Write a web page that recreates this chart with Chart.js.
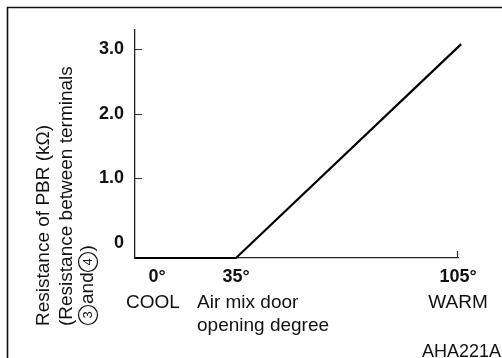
<!DOCTYPE html>
<html>
<head>
<meta charset="utf-8">
<title>PBR resistance</title>
<script src="https://cdn.jsdelivr.net/npm/chart.js@4/dist/chart.umd.min.js"></script>
<style>
  html, body { margin: 0; padding: 0; background: #fff; overflow: hidden; }
  canvas { display: block; }
</style>
</head>
<body>
<canvas id="pbr" width="502" height="358"></canvas>
<script>
// Air mix door opening (deg) vs. PBR resistance (kOhm).
// Flat along the base up to 35 deg, then rising to just past 105 deg.
var DOOR_DEG = [-10, 35, 106];
var PBR_KOHM = [-0.24, -0.24, 3.08];

var X_TICKS = [0, 35, 105];
var X_TICK_LABELS = ["0°", "35°", "105°"];
var Y_TICKS = [0, 1, 2, 3];
var Y_TICK_LABELS = ["0", "1.0", "2.0", "3.0"];

var Y_TITLE = ["Resistance of PBR (kΩ)", "(Resistance between terminals"];

var FONT = '"Liberation Sans", Arial, Helvetica, sans-serif';

// The door axis is schematic: the COOL end is squeezed, 35..105 is linear.
// Knots map degrees onto evenly spaced drawing units.
var KNOT_DEG = [-10, 0, 35, 105];
var KNOT_UNIT = [0, 22, 101, 323];

function warp(v) {
  var n = KNOT_DEG.length;
  var i = 0;
  if (v >= KNOT_DEG[n - 1]) i = n - 2;
  else while (i < n - 2 && v > KNOT_DEG[i + 1]) i++;
  var t = (v - KNOT_DEG[i]) / (KNOT_DEG[i + 1] - KNOT_DEG[i]);
  return KNOT_UNIT[i] + t * (KNOT_UNIT[i + 1] - KNOT_UNIT[i]);
}
function unwarp(u) {
  var n = KNOT_UNIT.length;
  var i = 0;
  if (u >= KNOT_UNIT[n - 1]) i = n - 2;
  else while (i < n - 2 && u > KNOT_UNIT[i + 1]) i++;
  var t = (u - KNOT_UNIT[i]) / (KNOT_UNIT[i + 1] - KNOT_UNIT[i]);
  return KNOT_DEG[i] + t * (KNOT_DEG[i + 1] - KNOT_DEG[i]);
}

class DoorScale extends Chart.LinearScale {
  getPixelForValue(value) {
    if (value === null || value === undefined) return NaN;
    var a = warp(this.min), b = warp(this.max);
    return this.getPixelForDecimal((warp(value) - a) / (b - a));
  }
  getValueForPixel(pixel) {
    var a = warp(this.min), b = warp(this.max);
    return unwarp(a + this.getDecimalForPixel(pixel) * (b - a));
  }
}
DoorScale.id = "door";
DoorScale.defaults = Chart.LinearScale.defaults;
Chart.register(DoorScale);

// terminal number in a small ring, drawn in the current (rotated) frame
function ringDigit(ctx, cx, digit) {
  ctx.beginPath();
  ctx.lineWidth = 1.2;
  ctx.arc(cx, 0, 9.5, 0, Math.PI * 2);
  ctx.stroke();
  ctx.save();
  ctx.font = "13px " + FONT;
  ctx.textAlign = "center";
  ctx.fillText(digit, cx, 0.5);
  ctx.restore();
}

var decor = {
  id: "pbrDecor",
  afterDraw: function (chart) {
    var ctx = chart.ctx;
    var xs = chart.scales.x, ys = chart.scales.y;
    ctx.save();

    // outer frame (only top/left fall inside the canvas)
    ctx.strokeStyle = "#111";
    ctx.lineWidth = 1.6;
    ctx.beginPath();
    ctx.moveTo(7.5, 358);
    ctx.lineTo(7.5, 7.5);
    ctx.lineTo(502, 7.5);
    ctx.stroke();

    // tick marks point into the plot
    ctx.strokeStyle = "#333";
    ctx.lineWidth = 1.2;
    ctx.beginPath();
    [1, 2, 3].forEach(function (v) {
      var py = Math.round(ys.getPixelForValue(v)) + 0.5;
      ctx.moveTo(xs.left, py);
      ctx.lineTo(xs.left + 7, py);
    });
    var px = Math.round(xs.getPixelForValue(105)) - 0.5;
    ctx.moveTo(px, ys.bottom);
    ctx.lineTo(px, ys.bottom - 7);
    ctx.stroke();

    ctx.fillStyle = "#111";
    ctx.strokeStyle = "#111";
    ctx.font = "19px " + FONT;
    ctx.textBaseline = "middle";

    // door position captions under the degree labels
    ctx.textAlign = "center";
    ctx.fillText("COOL", xs.getPixelForValue(0) - 4, 303);
    ctx.fillText("WARM", xs.getPixelForValue(105), 303);
    ctx.textAlign = "left";
    var capX = xs.getPixelForValue(35) - 39;
    ctx.fillText("Air mix door", capX, 303);
    ctx.fillText("opening degree", capX, 326);

    ctx.font = "18px " + FONT;
    ctx.textAlign = "right";
    ctx.fillText("AHA221A", 501, 352);

    // rotated y title, reading bottom-to-top
    ctx.font = "19px " + FONT;
    ctx.textAlign = "left";
    [44, 67].forEach(function (cx, i) {
      ctx.save();
      ctx.translate(cx, 326);
      ctx.rotate(-Math.PI / 2);
      ctx.fillText(Y_TITLE[i], 0, 0);
      ctx.restore();
    });
    // third line: "(3) and (4))" with ringed terminal numbers
    ctx.save();
    ctx.translate(88, 325);
    ctx.rotate(-Math.PI / 2);
    ringDigit(ctx, 10, "3");
    ctx.fillText("and", 21, 0);
    ringDigit(ctx, 63, "4");
    ctx.fillText(")", 73.5, 0);
    ctx.restore();

    ctx.restore();
  }
};

new Chart(document.getElementById("pbr"), {
  type: "line",
  data: {
    datasets: [{
      data: DOOR_DEG.map(function (d, i) { return { x: d, y: PBR_KOHM[i] }; }),
      borderColor: "#000",
      borderWidth: 2.2,
      pointRadius: 0,
      tension: 0,
      clip: false
    }]
  },
  options: {
    responsive: false,
    animation: false,
    events: [],
    layout: { padding: { left: 0, top: 30, right: 44, bottom: 0 } },
    plugins: { legend: { display: false }, tooltip: { enabled: false } },
    scales: {
      x: {
        type: "door",
        min: -10,
        max: 105,
        afterFit: function (s) { s.height = 100; },
        afterBuildTicks: function (s) {
          s.ticks = X_TICKS.map(function (v) { return { value: v }; });
        },
        ticks: {
          autoSkip: false,
          maxRotation: 0,
          padding: 8,
          color: "#111",
          font: { family: FONT, size: 18, weight: "bold" },
          callback: function (v) { return X_TICK_LABELS[X_TICKS.indexOf(v)]; }
        },
        grid: { display: true, drawOnChartArea: false, drawTicks: false },
        border: { display: true, color: "#222", width: 1.3 }
      },
      y: {
        type: "linear",
        min: -0.24,
        max: 3.30,
        afterFit: function (s) { s.width = 135; },
        afterBuildTicks: function (s) {
          s.ticks = Y_TICKS.map(function (v) { return { value: v }; });
        },
        ticks: {
          padding: 11,
          color: "#111",
          font: { family: FONT, size: 18, weight: "bold" },
          callback: function (v) { return Y_TICK_LABELS[Y_TICKS.indexOf(v)]; }
        },
        grid: { display: true, drawOnChartArea: false, drawTicks: false },
        border: { display: true, color: "#222", width: 1.3 }
      }
    }
  },
  plugins: [decor]
});
</script>
</body>
</html>
